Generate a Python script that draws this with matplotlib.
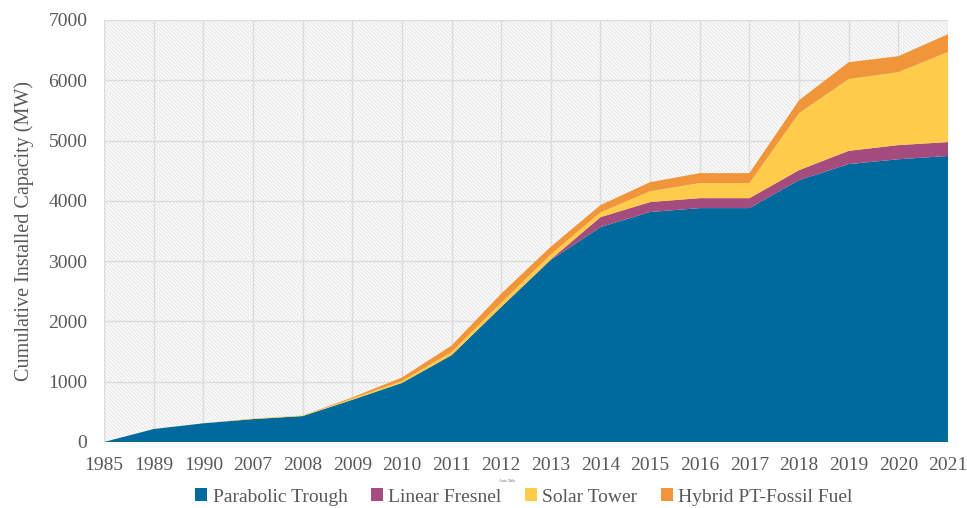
import numpy as np
import matplotlib.pyplot as plt
from matplotlib.patches import Rectangle

years = ["1985", "1989", "1990", "2007", "2008", "2009", "2010", "2011", "2012",
         "2013", "2014", "2015", "2016", "2017", "2018", "2019", "2020", "2021"]

parabolic_trough = [0, 215, 310, 380, 430, 700, 980, 1440, 2240,
                    3020, 3565, 3815, 3880, 3880, 4345, 4610, 4690, 4745]
linear_fresnel = [0, 0, 0, 0, 0, 0, 0, 0, 0,
                  10, 165, 165, 165, 165, 165, 220, 235, 230]
solar_tower = [0, 0, 0, 10, 10, 20, 30, 50, 70,
               80, 80, 180, 250, 250, 945, 1190, 1210, 1495]
hybrid = [0, 0, 0, 0, 0, 20, 60, 110, 150,
          130, 120, 150, 165, 165, 215, 280, 265, 295]

labels = ["Parabolic Trough", "Linear Fresnel", "Solar Tower", "Hybrid PT-Fossil Fuel"]
colors = ["#006a9c", "#a44c7e", "#fecb4b", "#f0953a"]

plt.rcParams['font.family'] = ['Liberation Serif', 'DejaVu Serif']
plt.rcParams['hatch.linewidth'] = 0.6
grey = "#595959"

fig = plt.figure(figsize=(9.67, 5.08), dpi=100)
ax = fig.add_axes([104 / 967, 1 - 442 / 508, (948 - 104) / 967, (442 - 20) / 508])

# fine hatched plot background
bg = Rectangle((0, 0), 1, 1, transform=ax.transAxes, facecolor="#fbfbfb",
               edgecolor="#e2e2e2", hatch="\\" * 9, linewidth=0, zorder=0)
ax.add_patch(bg)

x = np.arange(len(years))
ax.stackplot(x, parabolic_trough, linear_fresnel, solar_tower, hybrid,
             colors=colors, labels=labels, zorder=2, linewidth=0)

ax.set_xlim(0, len(years) - 1)
ax.set_ylim(0, 7000)
ax.set_xticks(x)
ax.set_xticklabels(years)
ax.set_yticks(range(0, 7001, 1000))
ax.grid(True, color="#dcdcdc", linewidth=1, zorder=1)
ax.set_axisbelow(True)
for s in ax.spines.values():
    s.set_visible(False)
ax.tick_params(length=0, labelsize=14, colors=grey, pad=11)
ax.tick_params(axis="y", pad=12)

ax.set_ylabel("Cumulative Installed Capacity (MW)", fontsize=14.5, color=grey, labelpad=10)
fig.text(507 / 967, 1 - 481 / 508, "Axis Title", fontsize=3, color=grey, ha="center", va="center")

leg = fig.legend(loc="center", bbox_to_anchor=(524 / 967, 1 - 497 / 508), ncol=4,
                 frameon=False, fontsize=14, handlelength=0.6, handleheight=0.6,
                 handletextpad=0.3, columnspacing=1.2, labelcolor=grey)

fig.savefig("out.png", dpi=100)
